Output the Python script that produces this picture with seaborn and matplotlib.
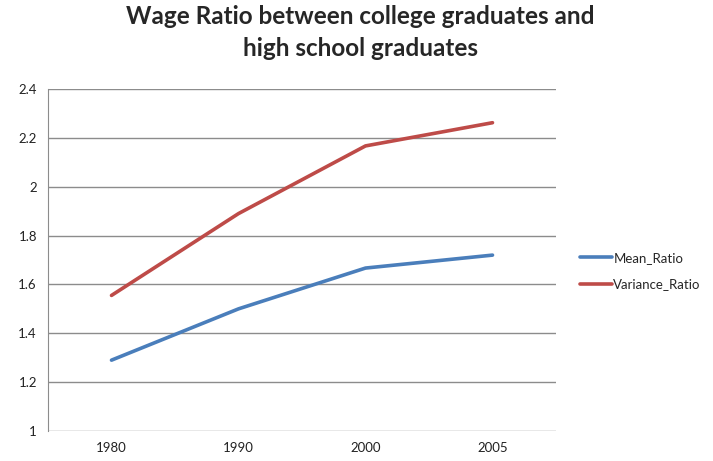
import matplotlib
matplotlib.use("Agg")
import matplotlib.pyplot as plt
import pandas as pd
import seaborn as sns

years = ["1980", "1990", "2000", "2005"]
mean_ratio = [1.29, 1.50, 1.667, 1.72]
variance_ratio = [1.555, 1.89, 2.167, 2.262]

df = pd.DataFrame({
    "year": years * 2,
    "ratio": mean_ratio + variance_ratio,
    "series": ["Mean_Ratio"] * 4 + ["Variance_Ratio"] * 4,
})

sns.set_style("white")
plt.rcParams["font.family"] = ["Lato", "DejaVu Sans"]

fig = plt.figure(figsize=(7.13, 4.61), dpi=100)
ax = fig.add_axes([48 / 713, 30 / 461, 508 / 713, 342 / 461])

sns.lineplot(data=df, x="year", y="ratio", hue="series",
             palette={"Mean_Ratio": "#4a7ebb", "Variance_Ratio": "#be4b48"},
             linewidth=2.6, ax=ax, sort=False)

ax.set_xlim(-0.5, 3.5)
ax.set_ylim(1, 2.4)
ax.set_yticks([1, 1.2, 1.4, 1.6, 1.8, 2, 2.2, 2.4])
ax.set_yticklabels(["1", "1.2", "1.4", "1.6", "1.8", "2", "2.2", "2.4"])
ax.grid(axis="y", color="#8c8c8c", linewidth=1)
ax.set_axisbelow(True)
for s in ["top", "right", "bottom"]:
    ax.spines[s].set_visible(False)
ax.spines["left"].set_color("#8c8c8c")
ax.tick_params(axis="both", length=0, labelsize=9.5, colors="#222222", pad=8)
ax.set_xlabel("")
ax.set_ylabel("")

ax.legend(loc="center left", bbox_to_anchor=(1.048, 0.468), frameon=False,
          fontsize=9.5, handlelength=2.4, handletextpad=0.1, labelspacing=1.1,
          borderaxespad=0, borderpad=0)

fig.text(0.505, 0.99, "Wage Ratio between college graduates and\nhigh school graduates",
         ha="center", va="top", fontsize=17.5, fontweight="bold", linespacing=1.5)

fig.savefig("out.png", dpi=100)
